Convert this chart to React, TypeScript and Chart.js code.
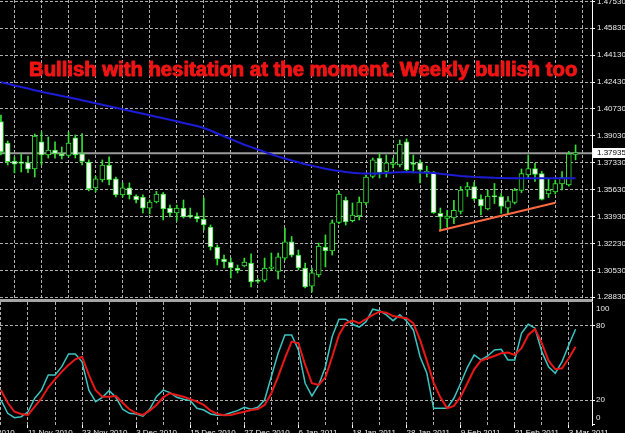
import React, { useEffect, useRef } from 'react';
import { Chart, registerables } from 'chart.js';

Chart.register(...registerables);

const FONT = '"Liberation Sans", Arial, sans-serif';

// ---- daily candles, 5 Nov 2010 .. 4 Mar 2011 (bar index 0..85) ----
const open = [
  1.3993, 1.3858, 1.3744, 1.3732, 1.3734, 1.3694, 1.3865, 1.3782, 1.3814, 1.3789,
  1.3779, 1.3890, 1.3789, 1.3738, 1.3574, 1.3624, 1.3719, 1.3631, 1.3530, 1.3574,
  1.3523, 1.3517, 1.3447, 1.3485, 1.3536, 1.3447, 1.3416, 1.3447, 1.3394, 1.3397,
  1.3378, 1.3327, 1.3201, 1.3125, 1.3106, 1.3068, 1.3081, 1.3100, 1.2986, 1.2992,
  1.3065, 1.3046, 1.3131, 1.3233, 1.3150, 1.3068, 1.2954, 1.3024, 1.3201, 1.3176,
  1.3356, 1.3498, 1.3368, 1.3397, 1.3479, 1.3647, 1.3763, 1.3678, 1.3722, 1.3719,
  1.3865, 1.3725, 1.3732, 1.3669, 1.3669, 1.3413, 1.3381, 1.3384, 1.3425, 1.3561,
  1.3583, 1.3504, 1.3441, 1.3520, 1.3520, 1.3447, 1.3482, 1.3558, 1.3656, 1.3697,
  1.3665, 1.3536, 1.3549, 1.3599, 1.3593, 1.3786,
];
const high = [
  1.4035, 1.3871, 1.3770, 1.3789, 1.3776, 1.3915, 1.3928, 1.3896, 1.3865, 1.3833,
  1.3928, 1.3909, 1.3918, 1.3751, 1.3647, 1.3751, 1.3770, 1.3643, 1.3606, 1.3606,
  1.3530, 1.3530, 1.3498, 1.3552, 1.3545, 1.3466, 1.3466, 1.3498, 1.3447, 1.3416,
  1.3511, 1.3340, 1.3214, 1.3150, 1.3131, 1.3087, 1.3131, 1.3157, 1.2999, 1.3131,
  1.3163, 1.3163, 1.3321, 1.3267, 1.3182, 1.3100, 1.3068, 1.3226, 1.3277, 1.3372,
  1.3552, 1.3517, 1.3479, 1.3517, 1.3656, 1.3763, 1.3795, 1.3782, 1.3763, 1.3877,
  1.3884, 1.3782, 1.3751, 1.3713, 1.3678, 1.3447, 1.3432, 1.3495, 1.3583, 1.3609,
  1.3609, 1.3530, 1.3561, 1.3602, 1.3539, 1.3520, 1.3571, 1.3694, 1.3782, 1.3729,
  1.3678, 1.3631, 1.3624, 1.3678, 1.3805, 1.3846,
];
const low = [
  1.3782, 1.3719, 1.3669, 1.3675, 1.3671, 1.3643, 1.3719, 1.3763, 1.3763, 1.3757,
  1.3770, 1.3763, 1.3719, 1.3555, 1.3549, 1.3612, 1.3593, 1.3517, 1.3517, 1.3504,
  1.3479, 1.3416, 1.3410, 1.3479, 1.3372, 1.3391, 1.3365, 1.3384, 1.3384, 1.3359,
  1.3308, 1.3182, 1.3087, 1.3068, 1.3005, 1.3037, 1.3075, 1.2948, 1.2973, 1.2980,
  1.3056, 1.2999, 1.3119, 1.3138, 1.3056, 1.2942, 1.2917, 1.3011, 1.3075, 1.3150,
  1.3349, 1.3340, 1.3359, 1.3372, 1.3466, 1.3637, 1.3637, 1.3643, 1.3700, 1.3707,
  1.3675, 1.3669, 1.3606, 1.3643, 1.3413, 1.3302, 1.3327, 1.3349, 1.3410, 1.3520,
  1.3495, 1.3403, 1.3435, 1.3476, 1.3413, 1.3413, 1.3473, 1.3545, 1.3634, 1.3615,
  1.3498, 1.3514, 1.3536, 1.3561, 1.3586, 1.3751,
];
const close = [
  1.3801, 1.3740, 1.3725, 1.3729, 1.3692, 1.3902, 1.3782, 1.3814, 1.3792, 1.3776,
  1.3858, 1.3782, 1.3741, 1.3568, 1.3631, 1.3719, 1.3624, 1.3530, 1.3574, 1.3530,
  1.3498, 1.3447, 1.3485, 1.3536, 1.3441, 1.3416, 1.3447, 1.3391, 1.3391, 1.3378,
  1.3340, 1.3201, 1.3125, 1.3106, 1.3068, 1.3053, 1.3106, 1.2980, 1.2983, 1.3068,
  1.3068, 1.3138, 1.3233, 1.3150, 1.3068, 1.2948, 1.3037, 1.3207, 1.3176, 1.3353,
  1.3536, 1.3359, 1.3403, 1.3485, 1.3643, 1.3751, 1.3672, 1.3732, 1.3725, 1.3852,
  1.3688, 1.3722, 1.3688, 1.3675, 1.3418, 1.3391, 1.3397, 1.3432, 1.3561, 1.3583,
  1.3507, 1.3460, 1.3523, 1.3517, 1.3457, 1.3492, 1.3561, 1.3665, 1.3697, 1.3659,
  1.3501, 1.3561, 1.3602, 1.3640, 1.3789, 1.37935,
];
// moving average (blue)
const ma = [
  1.4242, 1.4232, 1.4222, 1.4212, 1.4202, 1.4192, 1.4182, 1.4173, 1.4164, 1.4155,
  1.4147, 1.4138, 1.4128, 1.4119, 1.4109, 1.4100, 1.4090, 1.4081, 1.4071, 1.4062,
  1.4052, 1.4043, 1.4033, 1.4024, 1.4014, 1.4005, 1.3995, 1.3985, 1.3975, 1.3965,
  1.3953, 1.3937, 1.3918, 1.3901, 1.3883, 1.3865, 1.3847, 1.3832, 1.3817, 1.3802,
  1.3787, 1.3772, 1.3760, 1.3748, 1.3736, 1.3724, 1.3715, 1.3705, 1.3696, 1.3688,
  1.3681, 1.3675, 1.3670, 1.3667, 1.3666, 1.3665, 1.3666, 1.3669, 1.3672, 1.3674,
  1.3675, 1.3674, 1.3672, 1.3670, 1.3668, 1.3664, 1.3659, 1.3654, 1.3650, 1.3647,
  1.3644, 1.3642, 1.3640, 1.3638, 1.3637, 1.3636, 1.3636, 1.3635, 1.3635, 1.3635,
  1.3635, 1.3635, 1.3635, 1.3635, 1.3635, 1.3636,
];
// stochastic oscillator
const stochMain = [
  20, 9.2, 5.7, 6.5, 10.5, 21.4, 28, 40.3, 40.3, 47,
  57.3, 57.3, 51, 28, 18.7, 22.2, 27.6, 22.2, 12.5, 9.2,
  8.7, 7, 12.5, 22.7, 28, 26, 22.2, 20.6, 19.5, 13.3,
  11.9, 8.7, 7.6, 7.9, 9.7, 11.4, 14.1, 12.5, 14.1, 20,
  39, 57.9, 72.7, 72.7, 60.6, 33.6, 23.3, 32.2, 47, 71.4,
  85.5, 85.5, 81.4, 79, 83.5, 93.6, 92.4, 89, 84.3, 89,
  84, 76.8, 55.1, 41.7, 13.3, 13.3, 13.3, 21.4, 33.6, 46.5,
  56.5, 52.5, 55.7, 60.6, 61.1, 52.5, 52.5, 74.1, 81.4, 78.2,
  59.2, 47, 41.7, 51.1, 64.6, 77.4,
];
const stochSignal = [
  28, 17.8, 10.5, 8.7, 7.9, 14.6, 21.4, 30.3, 36.8, 43,
  48.4, 53, 55.1, 40.3, 28, 22.7, 22.7, 23.3, 17.8, 12.5,
  9.2, 7.9, 11.4, 16, 22.2, 25.5, 24, 22.7, 20.6, 18.7,
  16, 11.4, 8.7, 7.6, 7.9, 9.2, 10.5, 11.9, 12.7, 16,
  25.5, 39, 53.8, 67.3, 66, 48.4, 33.6, 32.2, 38.4, 55.1,
  72.7, 82.2, 84.3, 82.2, 85.5, 89, 91.6, 90.8, 88.1, 87.1,
  86.3, 82.2, 68.7, 51.9, 34.1, 22.2, 13.3, 15.2, 22.7, 33.6,
  44.9, 51.9, 53.8, 55.7, 57.9, 58.4, 56.5, 62, 72.7, 77.4,
  66, 51.9, 44.9, 45.7, 53.8, 63.2,
];
// hand-drawn support trend line (bar index, price)
const trendX = [64.8, 82];
const trendY = [1.3304, 1.3481];

const priceTicks = [1.2883, 1.3053, 1.3223, 1.3393, 1.3563, 1.3733, 1.3903, 1.4073, 1.4243, 1.4413, 1.4583, 1.4753];
const stochTicks = [100, 80, 20, 0];
const stochLevels = [80, 20];
const gridBars = [0, 4, 8, 12, 16, 20, 24, 28, 32, 36, 40, 44, 48, 52, 56, 60, 64, 68, 72, 76, 80, 84];
const labelBars = [-4, 4, 12, 20, 28, 36, 44, 52, 60, 68, 76, 84];
const labelTexts = ['1 Nov 2010', '11 Nov 2010', '23 Nov 2010', '3 Dec 2010', '15 Dec 2010', '27 Dec 2010',
  '6 Jan 2011', '18 Jan 2011', '28 Jan 2011', '9 Feb 2011', '21 Feb 2011', '3 Mar 2011'];
const bidPrice = 1.37935;
const titleText = 'Bullish with hesitation at the moment. Weekly bullish too';

// view ranges
const X_MIN = -0.14;
const X_MAX = 87.43;
const PRICE_MIN = 1.28659;
const PRICE_MAX = 1.47618;
const STOCH_MIN = -0.25;
const STOCH_MAX = 99.43;

const GRID = 'rgba(205,205,205,0.85)';
const DASH = [3, 2];
const CANDLE = '#33e033';
const AXIS_TEXT = '#ececec';

export default function App() {
  const topRef = useRef<HTMLCanvasElement>(null);
  const botRef = useRef<HTMLCanvasElement>(null);

  useEffect(() => {
    const fitY = (s: any) => {
      s.width = 33;
      s.paddingTop = 0; s.paddingBottom = 0; s.paddingLeft = 0; s.paddingRight = 0;
    };

    const topPlugin = {
      id: 'mt4Top',
      beforeDatasetsDraw(chart: any) {
        const { ctx, chartArea, scales } = chart;
        const y = scales.y.getPixelForValue(bidPrice);
        ctx.save();
        ctx.strokeStyle = '#9a9a9a';
        ctx.lineWidth = 2;
        ctx.beginPath();
        ctx.moveTo(chartArea.left, y);
        ctx.lineTo(chartArea.right, y);
        ctx.stroke();
        ctx.restore();
      },
      afterDatasetsDraw(chart: any) {
        const { ctx } = chart;
        ctx.save();
        ctx.font = `bold 20.3px ${FONT}`;
        ctx.fillStyle = '#f01414';
        ctx.strokeStyle = '#f01414';
        ctx.lineWidth = 1;
        ctx.lineJoin = 'round';
        ctx.textAlign = 'left';
        ctx.textBaseline = 'alphabetic';
        ctx.fillText(titleText, 29, 76);
        ctx.strokeText(titleText, 29, 76);
        ctx.restore();
      },
      afterDraw(chart: any) {
        const { ctx, chartArea, scales } = chart;
        const y = scales.y.getPixelForValue(bidPrice);
        ctx.save();
        ctx.fillStyle = '#ffffff';
        ctx.fillRect(chartArea.right + 1, Math.round(y) - 5, 40, 10);
        ctx.fillStyle = '#000000';
        ctx.font = `8px ${FONT}`;
        ctx.textBaseline = 'middle';
        ctx.textAlign = 'left';
        ctx.fillText(bidPrice.toFixed(5), chartArea.right + 5, y);
        ctx.restore();
      },
    };

    const top = new Chart(topRef.current as HTMLCanvasElement, {
      type: 'bar',
      data: {
        datasets: [
          {
            type: 'line', label: 'trend',
            data: trendX.map((x, i) => ({ x, y: trendY[i] })),
            borderColor: '#ff6a40', borderWidth: 2, pointRadius: 0, order: 0,
          } as any,
          {
            type: 'line', label: 'MA',
            data: ma.map((y, i) => ({ x: i, y })),
            borderColor: '#1c1cd8', borderWidth: 2, pointRadius: 0, order: 1,
          } as any,
          {
            type: 'bar', label: 'body',
            data: open.map((o, i) => ({ x: i, y: [o, close[i]] })),
            backgroundColor: open.map((o, i) => (close[i] < o ? '#ffffff' : '#000000')),
            borderColor: CANDLE, borderWidth: 1, borderSkipped: false,
            barThickness: 5, minBarLength: 1.5, grouped: false, order: 2,
          } as any,
          {
            type: 'bar', label: 'wick',
            data: low.map((l, i) => ({ x: i, y: [l, high[i]] })),
            backgroundColor: CANDLE, borderWidth: 0,
            barThickness: 1, grouped: false, order: 3,
          } as any,
        ],
      },
      options: {
        responsive: false,
        animation: false,
        events: [],
        layout: { padding: 0 },
        plugins: { legend: { display: false }, tooltip: { enabled: false } },
        scales: {
          x: {
            type: 'linear', position: 'bottom', min: X_MIN, max: X_MAX, offset: false,
            afterBuildTicks: (s: any) => { s.ticks = gridBars.map((value) => ({ value })); },
            afterFit: (s: any) => { s.height = 2; s.paddingLeft = 0; s.paddingRight = 0; },
            ticks: { display: false },
            grid: { color: GRID, lineWidth: 1, drawTicks: false },
            border: { display: true, color: '#a4a4a4', width: 3, dash: DASH },
          },
          y: {
            type: 'linear', position: 'right', min: PRICE_MIN, max: PRICE_MAX,
            afterBuildTicks: (s: any) => { s.ticks = priceTicks.map((value) => ({ value })); },
            afterFit: fitY,
            ticks: {
              color: AXIS_TEXT, font: { family: FONT, size: 8 }, padding: 2, autoSkip: false,
              callback: (v: any) => Number(v).toFixed(5),
            },
            grid: { color: GRID, lineWidth: 1, tickColor: '#ffffff', tickLength: 3, tickBorderDash: [] },
            border: { display: true, color: '#ffffff', width: 1, dash: DASH },
          },
        },
      } as any,
      plugins: [topPlugin],
    });

    const bottom = new Chart(botRef.current as HTMLCanvasElement, {
      type: 'line',
      data: {
        datasets: [
          {
            label: 'Signal', data: stochSignal.map((y, i) => ({ x: i, y })),
            borderColor: '#e81818', borderWidth: 2, pointRadius: 0, order: 0,
          },
          {
            label: 'Main', data: stochMain.map((y, i) => ({ x: i, y })),
            borderColor: '#3cc4c0', borderWidth: 1.5, pointRadius: 0, order: 1,
          },
        ],
      },
      options: {
        responsive: false,
        animation: false,
        events: [],
        layout: { padding: 0 },
        plugins: { legend: { display: false }, tooltip: { enabled: false } },
        scales: {
          x: {
            type: 'linear', position: 'bottom', min: X_MIN, max: X_MAX, offset: false,
            afterBuildTicks: (s: any) => { s.ticks = [-4, ...gridBars].map((value) => ({ value })); },
            afterFit: (s: any) => { s.height = 8; s.paddingLeft = 0; s.paddingRight = 0; },
            ticks: {
              color: AXIS_TEXT, font: { family: FONT, size: 8 }, padding: 0,
              autoSkip: false, maxRotation: 0, minRotation: 0, align: 'start',
              callback: (v: any) => {
                const k = labelBars.indexOf(Number(v));
                return k >= 0 ? labelTexts[k] : '';
              },
            },
            grid: {
              color: GRID, lineWidth: 1, drawTicks: true, tickLength: 3, tickBorderDash: [],
              tickColor: (c: any) => (labelBars.includes(c.tick?.value) ? '#ffffff' : 'rgba(0,0,0,0)'),
            },
            border: { display: false, dash: DASH },
          },
          y: {
            type: 'linear', position: 'right', min: STOCH_MIN, max: STOCH_MAX,
            afterBuildTicks: (s: any) => { s.ticks = stochTicks.map((value) => ({ value })); },
            afterFit: fitY,
            ticks: {
              color: AXIS_TEXT, padding: 1, autoSkip: false,
              font: (c: any) => ({
                family: FONT, size: 8,
                lineHeight: c.tick?.value === 100 ? '15px' : c.tick?.value === 0 ? '13.4px' : 1.2,
              }),
              callback: (v: any) => (v === 100 ? ['', '100'] : v === 0 ? ['0', ''] : String(v)),
            },
            grid: {
              lineWidth: 1, tickLength: 3, tickBorderDash: [], tickColor: '#ffffff',
              color: (c: any) => (stochLevels.includes(c.tick?.value) ? GRID : 'rgba(0,0,0,0)'),
            },
            border: { display: true, color: '#ffffff', width: 1, dash: DASH },
          },
        },
      } as any,
    });

    return () => {
      top.destroy();
      bottom.destroy();
    };
  }, []);

  return (
    <div style={{ position: 'fixed', left: 0, top: 0, width: 625, height: 433, background: '#000', overflow: 'hidden' }}>
      <canvas ref={topRef} width={625} height={302} style={{ position: 'absolute', left: 0, top: 0, display: 'block' }} />
      <canvas ref={botRef} width={625} height={131} style={{ position: 'absolute', left: 0, top: 302, display: 'block' }} />
    </div>
  );
}
